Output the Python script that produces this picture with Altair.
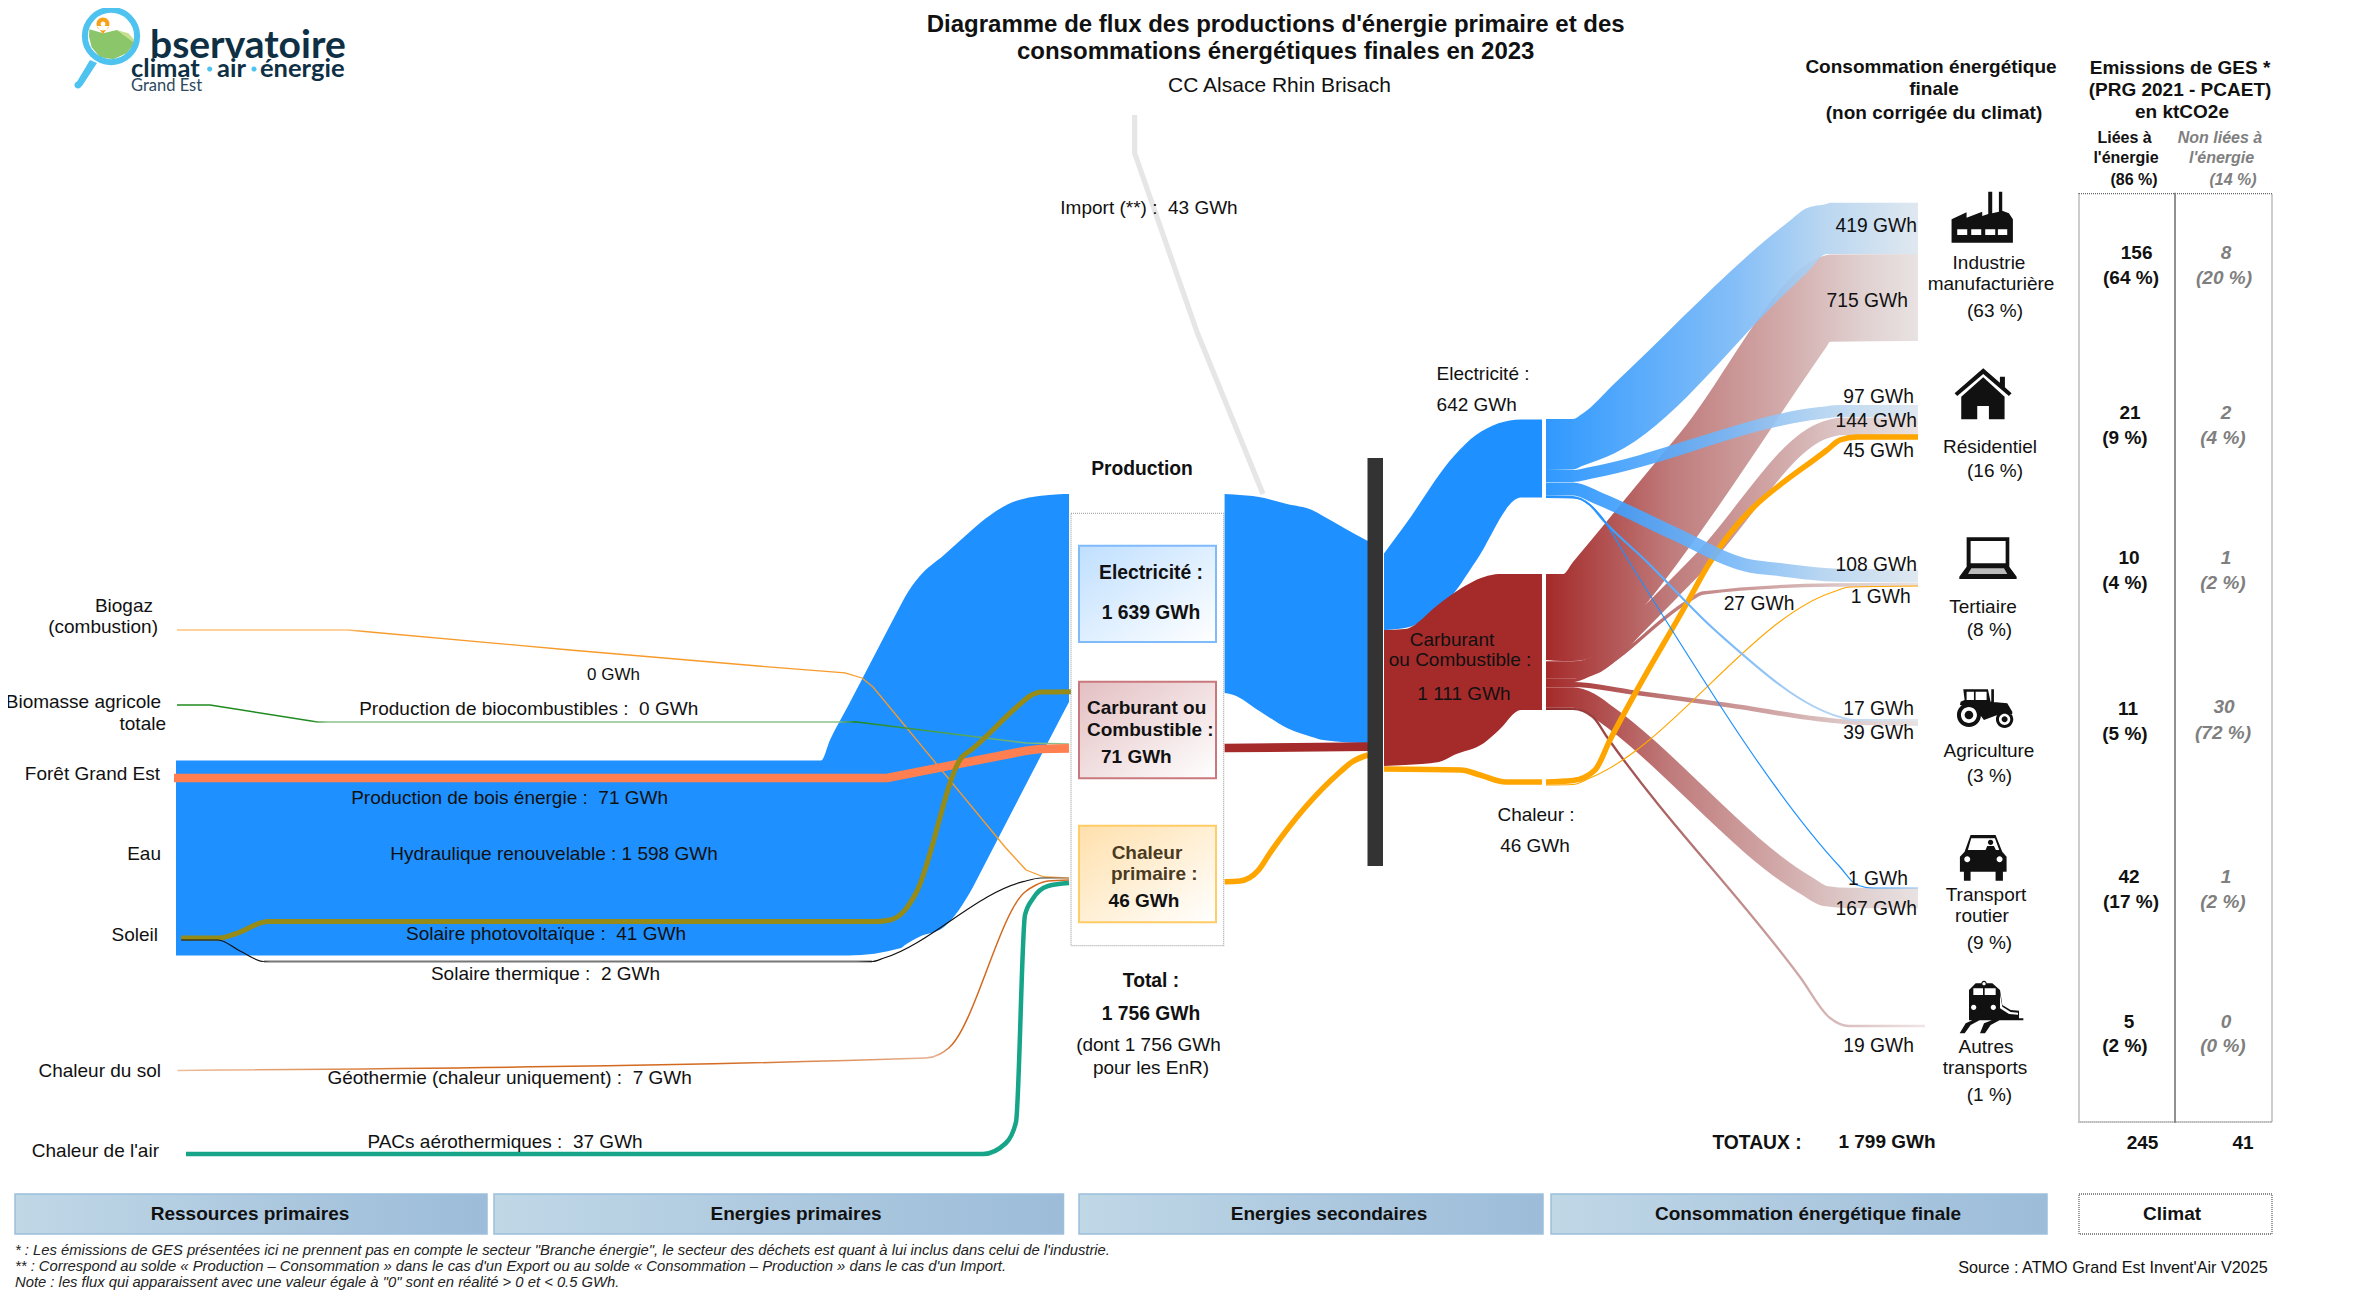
import math
import altair as alt
import pandas as pd

W, H = 2350, 1283
XS = alt.Scale(domain=[8, 8 + W], nice=False, zero=False)
YS = alt.Scale(domain=[8 + H, 8], nice=False, zero=False)
FONT = "Liberation Sans"

# ---------- flow values (GWh) ----------
PX_PER_GWH = 0.122
PROD = dict(hydro=1598, bois=71, pv=41, thermique=2, geo=7, pac=37, import_=43)
PRIMARY = dict(elec=1639, carb=71, chal=46)
SECOND = dict(elec=642, carb=1111, chal=46)
ELEC_OUT = dict(ind=419, res=97, ter=108, agr=17, tra=1)
CARB_OUT = dict(ind=715, res=144, ter=27, agr=39, tra=167, aut=19)
CHAL_OUT = dict(res=45, ter=1)

BLUE, RED, ORANGE = "#1E90FF", "#A52A2A", "#FFA500"


def grad(*stops, diag=False):
    return alt.Gradient(
        gradient="linear", x1=0, y1=0, x2=1, y2=1 if diag else 0,
        stops=[alt.GradientStop(color=c, offset=o) for o, c in stops],
    )


layers = []


def band(xs, tops, bots, fill, opacity=1.0, interp="monotone"):
    df = pd.DataFrame({"x": xs, "t": tops, "b": bots})
    layers.append(
        alt.Chart(df).mark_area(fill=fill, opacity=opacity, line=False, interpolate=interp).encode(
            x=alt.X("x:Q", scale=XS, axis=None),
            y=alt.Y("t:Q", scale=YS, axis=None),
            y2="b:Q",
        )
    )


def flow(path, width, stroke, opacity=1.0, interp="monotone"):
    df = pd.DataFrame(path, columns=["x", "y"])
    layers.append(
        alt.Chart(df).mark_line(
            stroke=stroke, strokeWidth=width, opacity=opacity, interpolate=interp,
            strokeCap="butt", strokeJoin="round",
        ).encode(
            x=alt.X("x:Q", scale=XS, axis=None),
            y=alt.Y("y:Q", scale=YS, axis=None),
        )
    )


def rect(x1, x2, y1, y2, **kw):
    df = pd.DataFrame({"x": [x1], "x2": [x2], "y": [y1], "y2": [y2]})
    layers.append(
        alt.Chart(df).mark_rect(**kw).encode(
            x=alt.X("x:Q", scale=XS, axis=None), x2="x2:Q",
            y=alt.Y("y:Q", scale=YS, axis=None), y2="y2:Q",
        )
    )


def px(v):
    return max(1.0, v * PX_PER_GWH)


# ---------- left side ----------
band([176, 819, 821, 830, 848, 901, 905, 919, 944, 973, 980, 1019, 1059, 1069],
     [760.6, 760.6, 760.6, 740, 706, 604.6, 597, 577, 555, 529, 523, 500, 494.3, 494],
     [955.5, 955.5, 955.5, 955.5, 955.5, 948, 945, 937, 927, 887, 873.5, 798, 721, 702], BLUE)

flow([(177, 630), (348, 630), (570, 650), (765, 666.6), (845, 672.8), (862, 678), (873, 687),
      (1005, 847), (1026, 870), (1044, 877), (1069, 878)], 1.3,
     grad((0, "#FFC47A"), (.19, "#FFC47A"), (.21, "#F79A2A"), (1, "#F79A2A")), interp="linear")
flow([(177, 705), (210, 705), (317.5, 722), (849, 722), (855, 721.7), (1026, 743), (1069, 744)], 1.6,
     grad((0, "#1F8A1F"), (.15, "#1F8A1F"), (.17, "#8DC28D"), (.74, "#8DC28D"), (.76, "#1F8A1F"), (1, "#8DC28D")),
     interp="linear")
flow([(174, 778), (887, 778), (1026, 750.7), (1040, 749), (1069, 748.3)], px(PROD["bois"]), "#FF7F50", interp="linear")
flow([(181, 938), (218, 938), (235, 934), (268, 921.5), (876, 921.5), (890, 920), (905, 910), (916, 893), (962, 757),
      (971, 750), (1019, 705), (1030, 696), (1041, 692), (1071, 691.7)], px(PROD["pv"]), "#968B17")
flow([(264, 961.5), (872, 961.5)], 2.2, "#777777", interp="linear")
flow([(181, 940), (218, 940), (240, 951), (264, 961.5), (872, 961.5), (884, 958), (1023, 881.7), (1041, 878), (1069, 878)], 1.2,
     grad((0, "#111111"), (.09, "#111111"), (.1, "#777777"), (.76, "#777777"), (.78, "#111111"), (.96, "#111111"), (1, "#999999")))
flow([(177.5, 1070.5), (926, 1058), (940, 1054), (949, 1047.7), (1025, 892), (1036, 885), (1048, 881), (1069, 880)], 1.5,
     grad((0, "#EDBE9C"), (.3, "#D2691E"), (.6, "#D2691E"), (.85, "#E8B090"), (.87, "#D2691E"), (1, "#D2691E")))
flow([(186, 1154), (983, 1154), (1006, 1143), (1016, 1122), (1025, 915), (1033, 898.5), (1048, 886), (1069, 883)],
     px(PROD["pac"]), "#17A589")

# Production -> bar
flow([(1134.6, 115), (1134.6, 153), (1197, 332), (1263, 494)], px(PROD["import_"]), "#E6E6E6", interp="linear")
band([1224.6, 1233.6, 1259, 1287, 1312, 1323, 1366, 1368],
     [494, 494.5, 497, 503.9, 510, 516, 540, 541],
     [693, 695, 710.7, 728, 737, 740, 743, 743], BLUE)
flow([(1224.6, 748), (1368, 746.7)], px(PRIMARY["carb"]), RED, interp="linear")
flow([(1224.6, 881.7), (1240, 881), (1258.6, 870), (1270, 853), (1340, 772), (1352, 762), (1368, 755)], px(PRIMARY["chal"]), ORANGE)

# Dotted boxes
rect(1071, 1223.6, 513.3, 945.7, fill="white", stroke="#AAAAAA", strokeWidth=1.3, strokeDash=[1, 1])
rect(1079, 1216, 545.7, 642, fill=grad((0, "#BFDFFF"), (1, "#FFFFFF"), diag=True), stroke="#7FBBFB", strokeWidth=2)
rect(1079, 1216, 681.7, 778.3, fill=grad((0, "#E3BFC2"), (1, "#FFFFFF"), diag=True), stroke="#C9797E", strokeWidth=2)
rect(1079, 1216, 825.7, 922.3, fill=grad((0, "#FFE0AC"), (1, "#FFFFFF"), diag=True), stroke="#FFCC66", strokeWidth=2)

# Bar
rect(1367.5, 1383, 458, 866, fill="#333333")

# Secondary nodes
band([1384, 1405, 1454, 1476, 1521, 1542],
     [553.5, 525, 456, 435, 419.5, 419.5], [630, 628, 593, 561, 497.5, 497.5], BLUE)
band([1384, 1405, 1439, 1454, 1484, 1499, 1521, 1542],
     [630, 629, 604, 593, 577, 574, 574, 574], [766, 765, 762, 755, 743, 730, 710, 710], RED)
flow([(1384, 769), (1461, 770), (1480, 775), (1506, 782), (1542, 782)], px(SECOND["chal"]), ORANGE)

# Fuel flows
R = grad((0, RED), (.34, "#C07C7C"), (.6, "#D0A4A4"), (.85, "#E0D0D0"), (1, "#E9E2E2"))
band([1546, 1563, 1573, 1593, 1655, 1680, 1827, 1830, 1918],
     [574, 574, 562, 538, 463, 433, 255, 254.5, 254],
     [660, 661, 661, 657, 593, 560, 346, 341.7, 341], R)
flow([(1546, 670), (1573, 670), (1595, 665), (1608, 656), (1635, 628), (1703, 559), (1825, 430), (1840, 426.5), (1918, 426)],
     px(CARB_OUT["res"]), R)
flow([(1546, 680.5), (1573, 680.5), (1593, 673), (1687, 602), (1703, 593), (1833, 585), (1918, 584.5)],
     px(CARB_OUT["ter"]), R)
flow([(1546, 684.5), (1573, 684.5), (1630, 692), (1727, 705), (1850, 722), (1918, 723.5)], px(CARB_OUT["agr"]), R)
flow([(1546, 697.5), (1573, 697.5), (1590, 703), (1603, 712), (1807, 886), (1825, 896), (1850, 898), (1918, 898)],
     px(CARB_OUT["tra"]), R)
flow([(1546, 708.8), (1573, 708.8), (1593, 717), (1607, 737), (1800, 977), (1830, 1018), (1849, 1026), (1925, 1026)],
     px(CARB_OUT["aut"]), grad((0, "#8E2A2A"), (1, "#EFE6E6")))

# Heat flows
flow([(1546, 782), (1573, 780.5), (1595, 770), (1610, 740), (1637, 690), (1687, 603), (1707, 567), (1827, 450), (1840, 440), (1857, 437), (1918, 437)],
     px(CHAL_OUT["res"]), ORANGE)
flow([(1546, 785), (1573, 784.5), (1590, 778), (1833, 592), (1850, 587), (1918, 586)], 1.1, ORANGE)

# Electricity flows
B = grad((0, BLUE), (.5, "#78B8F7"), (.75, "#B4D3F0"), (1, "#DDE6EE"))
band([1546, 1573, 1582, 1615, 1787, 1807, 1827, 1830, 1918],
     [419, 419, 414, 383, 223, 208, 203.7, 202.7, 202.7],
     [470, 469.5, 466, 453, 291.7, 272.7, 254, 254, 254], B, opacity=.92)
flow([(1546, 476), (1573, 476), (1590, 473), (1820, 413), (1840, 411), (1918, 411)], px(ELEC_OUT["res"]), B, opacity=.92)
flow([(1546, 489), (1573, 489), (1600, 499), (1673, 533), (1750, 566), (1775, 569), (1833, 575), (1918, 576)], px(ELEC_OUT["ter"]), B, opacity=.92)
flow([(1546, 496.5), (1573, 497), (1590, 505), (1603, 520), (1645, 560), (1717, 632), (1840, 717), (1853, 720), (1918, 720)],
     px(ELEC_OUT["agr"]), grad((0, BLUE), (1, "#E3E9F0")))
flow([(1546, 497.5), (1573, 498), (1590, 505), (1600, 515), (1628, 560), (1840, 867), (1857, 885), (1873, 888), (1918, 888)], 1.2,
     grad((0, BLUE), (.85, BLUE), (1, "#8CC4FA")))

# Right columns
rect(2079, 2272, 193.6, 1122, fill="white", fillOpacity=0, stroke="#666666", strokeWidth=1.3, strokeDash=[1, 1])
rect(2175, 2175.01, 193.6, 1122, stroke="#777777", strokeWidth=1.6)

# Bottom bars
BAR_GRAD = grad((0, "#C0D7E6"), (1, "#9CBCD9"))
for a, b in [(15, 487), (494, 1063.5), (1079, 1543), (1551, 2047)]:
    rect(a, b, 1194, 1234, fill=BAR_GRAD, stroke="#9CBFDB", strokeWidth=1.5)
rect(2079, 2272, 1194, 1234, fill="white", stroke="#666666", strokeWidth=1.3, strokeDash=[1, 1])


# ---------- icons ----------
def _poly(pts, cx, cy, h):
    return "M" + "L".join(f"{(x - cx) / h:.4f},{(y - cy) / h:.4f}" for x, y in pts) + "Z"


def _circle(x0, y0, r, cx, cy, h):
    k = 0.5523 * r
    f = lambda x, y: f"{(x - cx) / h:.4f},{(y - cy) / h:.4f}"
    return ("M" + f(x0 + r, y0)
            + "C" + f(x0 + r, y0 + k) + " " + f(x0 + k, y0 + r) + " " + f(x0, y0 + r)
            + "C" + f(x0 - k, y0 + r) + " " + f(x0 - r, y0 + k) + " " + f(x0 - r, y0)
            + "C" + f(x0 - r, y0 - k) + " " + f(x0 - k, y0 - r) + " " + f(x0, y0 - r)
            + "C" + f(x0 + k, y0 - r) + " " + f(x0 + r, y0 - k) + " " + f(x0 + r, y0) + "Z")


def icon(parts, center, side, ox, oy, sx=2.96, sy=3.0):
    """parts: list of (colour, polys, circles) in zoom units"""
    cx, cy = center
    h = side / 2
    for colour, polys, circles in parts:
        d = "".join(_poly(p, cx, cy, h) for p in polys) + "".join(_circle(x, y, r, cx, cy, h) for x, y, r in circles)
        df = pd.DataFrame({"x": [ox + cx / sx], "y": [oy + cy / sy]})
        layers.append(
            alt.Chart(df).mark_point(shape=d, filled=True, fill=colour, size=(side / sy) ** 2, opacity=1, strokeWidth=0).encode(
                x=alt.X("x:Q", scale=XS, axis=None), y=alt.Y("y:Q", scale=YS, axis=None))
        )


def box(a, b, c, d):
    return [(a, b), (c, b), (c, d), (a, d)]


BK = "#111111"
# factory
icon([(BK, [[(33, 188), (33, 118), (78, 97), (78, 113), (125, 95), (125, 108), (143, 102), (143, 35), (155, 35), (155, 100),
             (175, 95), (175, 35), (185, 35), (185, 92), (205, 100), (217, 118), (217, 188)]], []),
      ("white", [box(50, 148, 80, 165), box(92, 148, 122, 165), box(134, 148, 164, 165), box(172, 148, 200, 165)], [])],
     (125, 110), 200, 1940, 180)
# house
icon([(BK, [[(42, 640), (128, 565), (178, 608), (178, 590), (193, 590), (193, 622), (213, 640), (205, 648), (128, 582), (50, 648)],
            [(62, 650), (128, 592), (192, 650), (192, 718), (145, 718), (145, 678), (110, 678), (110, 718), (62, 718)]], [])],
     (128, 640), 200, 1940, 180)
# laptop
icon([(BK, [box(78, 1072, 206, 1160), [(78, 1160), (206, 1160), (228, 1190), (228, 1197), (56, 1197), (56, 1190)]], []),
      ("white", [box(90, 1083, 195, 1150)], []),
      ("#BBBBBB", [[(92, 1165), (190, 1165), (200, 1182), (82, 1182)]], [])],
     (142, 1135), 200, 1940, 180)
# tractor
icon([(BK, [[(68, 148), (142, 148), (150, 185), (200, 190), (215, 215), (215, 222), (170, 225), (130, 240), (100, 200), (58, 195), (60, 185), (72, 180)],
            box(152, 148, 160, 190)], [(85, 225, 36), (192, 238, 26)]),
      ("white", [box(78, 155, 100, 180), box(105, 155, 138, 180)], [(85, 225, 24), (192, 238, 17)]),
      (BK, [], [(85, 225, 13), (192, 238, 9)])],
     (135, 190), 200, 1940, 640)
# car
icon([(BK, [[(90, 585), (165, 585), (185, 635), (198, 650), (198, 695), (187, 695), (187, 722), (165, 722), (165, 695), (90, 695),
             (90, 722), (70, 722), (70, 695), (58, 695), (58, 650), (72, 635)]], []),
      ("white", [[(92, 595), (163, 595), (176, 630), (82, 630)]], [(80, 658, 9), (177, 658, 9)]),
      (BK, [[(135, 630), (140, 618), (160, 618), (166, 630)]], [(150, 607, 8)])],
     (128, 650), 200, 1940, 640)
# train
icon([(BK, [[(85, 1135), (85, 1050), (105, 1030), (155, 1030), (178, 1050), (185, 1095), (210, 1110), (235, 1112), (235, 1135)],
            [(57, 1180), (75, 1150), (105, 1136), (125, 1136), (90, 1155), (72, 1180)],
            [(118, 1180), (130, 1150), (165, 1136), (185, 1136), (150, 1155), (133, 1180)],
            [(85, 1132), (248, 1135), (248, 1141), (85, 1141)]], [(130, 1030, 8)]),
      ("white", [box(98, 1045, 127, 1065), box(132, 1045, 165, 1065),
                 [(178, 1062), (185, 1100), (210, 1116), (232, 1118), (232, 1124), (205, 1122), (178, 1105)]],
       [(99, 1102, 8), (158, 1102, 8), (130, 1031, 5)])],
     (150, 1100), 200, 1940, 640)

# ---------- logo ----------
LOGO = "#4FC3F0"
icon([(LOGO, [[(90, 60), (97, 63), (82, 86), (75, 85)]], [(78, 85, 3.6)])],
     (85, 70), 40, 0, 0, sx=1, sy=1)
icon([("#8CC66A", [[(88, 88), (130, 100), (170, 90), (205, 105), (225, 125), (225, 130), (200, 160), (160, 178), (120, 172), (95, 142), (87, 110)]], []),
      ("#C6DF8E", [[(170, 90), (205, 100), (228, 125), (218, 125), (190, 105)]], [])],
     (155, 130), 180, 60, 0, sx=3, sy=3)
layers.append(alt.Chart(pd.DataFrame({"x": [111], "y": [36]})).mark_point(
    shape="circle", filled=False, stroke=LOGO, strokeWidth=6, size=math.pi * 29.5 ** 2, opacity=1).encode(
    x=alt.X("x:Q", scale=XS, axis=None), y=alt.Y("y:Q", scale=YS, axis=None)))
icon([("#F7A11A", [[(97, 26), (103, 34), (109, 26)]], [(103, 24, 6.5)]),
      ("white", [], [(103, 24, 2.4)])], (103, 28), 20, 0, 0, sx=1, sy=1)

# ---------- text ----------
N = "#111111"
G = "#7F7F7F"
NB = "\u00a0\u00a0"
# (text, x, y, size)
MID = [
    ("CC Alsace Rhin Brisach", 1279.5, 86, 21),
    (f"Import (**) :{NB}43 GWh", 1149, 207.5, 19),
    ("0 GWh", 613.5, 675, 17),
    (f"Production de biocombustibles :{NB}0 GWh", 528.7, 709, 19),
    (f"Production de bois énergie :{NB}71 GWh", 509.6, 797.5, 19),
    ("Hydraulique renouvelable : 1 598 GWh", 554, 854, 19),
    (f"Solaire photovoltaïque :{NB}41 GWh", 546, 934, 19),
    (f"Solaire thermique :{NB}2 GWh", 545.5, 973.5, 19),
    (f"Géothermie (chaleur uniquement) :{NB}7 GWh", 509.6, 1078, 19),
    (f"PACs aérothermiques :{NB}37 GWh", 505, 1142, 19),
    ("(dont 1 756 GWh", 1148.5, 1045, 19),
    ("pour les EnR)", 1151, 1067.6, 19),
    ("Carburant", 1452, 640, 19),
    ("ou Combustible :", 1460, 660, 19),
    ("1 111 GWh", 1464, 693.5, 19),
    ("Chaleur :", 1536, 814.5, 19),
    ("46 GWh", 1535, 845.5, 19),
    ("27 GWh", 1759, 604, 19.3),
    ("Industrie", 1989, 263, 19),
    ("manufacturière", 1991, 284, 19),
    ("(63 %)", 1995, 311, 19),
    ("Résidentiel", 1990, 447, 19),
    ("(16 %)", 1995, 471, 19),
    ("Tertiaire", 1983, 606.5, 19),
    ("(8 %)", 1989.5, 630, 19),
    ("Agriculture", 1989, 750.7, 19),
    ("(3 %)", 1989.5, 775.5, 19),
    ("Transport", 1986, 895, 19),
    ("routier", 1982, 916, 19),
    ("(9 %)", 1989.5, 943, 19),
    ("Autres", 1986, 1047, 19),
    ("transports", 1985, 1068, 19),
    ("(1 %)", 1989.5, 1095, 19),
    ("Source : ATMO Grand Est Invent'Air V2025", 2113, 1267.6, 16.2),
]
LEFT = [
    ("Electricité :", 1436.6, 374.4, 19),
    ("642 GWh", 1436.6, 405, 19),
]
RIGHT = [
    ("Biogaz", 153, 606, 19), ("(combustion)", 158, 627, 19),
    ("Biomasse agricole", 161, 702, 19), ("totale", 166, 723.7, 19),
    ("Forêt Grand Est", 160, 774, 19), ("Eau", 161, 854, 19), ("Soleil", 158, 934.6, 19),
    ("Chaleur du sol", 161, 1071, 19), ("Chaleur de l'air", 159, 1151, 19),
    ("419 GWh", 1917, 226, 19.3), ("715 GWh", 1908, 301, 19.3), ("97 GWh", 1914, 396.7, 19.3),
    ("144 GWh", 1917, 421, 19.3), ("45 GWh", 1914, 450.7, 19.3), ("108 GWh", 1917, 565, 19.3),
    ("1 GWh", 1910.7, 596.7, 19.3), ("17 GWh", 1914, 709, 19.3), ("39 GWh", 1914, 733, 19.3),
    ("1 GWh", 1908, 879, 19.3), ("167 GWh", 1917, 909, 19.3), ("19 GWh", 1914, 1045.6, 19.3),
]
BOLD_MID = [
    ("Diagramme de flux des productions d'énergie primaire et des", 1275.7, 25, 24),
    ("consommations énergétiques finales en 2023", 1275.7, 52, 24),
    ("Production", 1142, 469, 19.3),
    ("Electricité :", 1151, 573, 19.3),
    ("1 639 GWh", 1151, 613, 19.3),
    ("Total :", 1151, 981.4, 19.3),
    ("1 756 GWh", 1151, 1013.7, 19.3),
    ("Consommation énergétique", 1931, 67, 19),
    ("finale", 1934, 89, 19),
    ("(non corrigée du climat)", 1934, 113, 19),
    ("Emissions de GES *", 2180, 68, 19),
    ("(PRG 2021 - PCAET)", 2180, 90, 19),
    ("en ktCO2e", 2182, 112, 19),
    ("Liées à", 2124.6, 138, 16),
    ("l'énergie", 2126, 157.5, 16),
    ("(86 %)", 2134, 180, 16),
    ("156", 2136.6, 253, 19), ("(64 %)", 2131, 278, 19),
    ("21", 2130, 413, 19), ("(9 %)", 2125, 438, 19),
    ("10", 2129, 557.6, 19), ("(4 %)", 2125, 582.5, 19),
    ("11", 2128, 709, 19), ("(5 %)", 2125, 734, 19),
    ("42", 2129, 877, 19), ("(17 %)", 2131, 902, 19),
    ("5", 2129, 1021.6, 19), ("(2 %)", 2125, 1046.4, 19),
    ("TOTAUX :", 1757, 1142.5, 19.3),
    ("1 799 GWh", 1887, 1141.7, 19),
    ("245", 2142.5, 1143, 19),
    ("41", 2243, 1143, 19),
    ("Ressources primaires", 250, 1214, 19),
    ("Energies primaires", 796, 1214, 19),
    ("Energies secondaires", 1329, 1214, 19),
    ("Consommation énergétique finale", 1808, 1214, 19),
    ("Climat", 2172, 1214, 19),
]
BOLD_LEFT = [
    ("Carburant ou", 1087, 708, 19), ("Combustible :", 1087, 730, 19), ("71 GWh", 1101, 757, 19),
    ("46 GWh", 1108.6, 901, 19),
]
BROWN_BOLD = [("Chaleur", 1147, 853, 19, "center"), ("primaire :", 1111, 874, 19, "left")]
ITALIC_BOLD_G = [
    ("Non liées à", 2220, 138, 16), ("l'énergie", 2221.6, 157.5, 16), ("(14 %)", 2233, 180, 16),
    ("8", 2226, 253, 19), ("(20 %)", 2224, 278, 19),
    ("2", 2226, 413, 19), ("(4 %)", 2223, 438, 19),
    ("1", 2226, 557.6, 19), ("(2 %)", 2223, 582.5, 19),
    ("30", 2224, 707, 19), ("(72 %)", 2223, 733, 19),
    ("1", 2226, 877, 19), ("(2 %)", 2223, 902, 19),
    ("0", 2226, 1021.6, 19), ("(0 %)", 2223, 1046.4, 19),
]
NOTES = [
    ('* : Les émissions de GES présentées ici ne prennent pas en compte le secteur "Branche énergie", le secteur des déchets est quant à lui inclus dans celui de l\'industrie.', 15, 1250.5, 14.8),
    ("** : Correspond au solde « Production – Consommation » dans le cas d'un Export ou au solde « Consommation – Production » dans le cas d'un Import.", 15, 1266.5, 14.8),
    ('Note : les flux qui apparaissent avec une valeur égale à "0" sont en réalité > 0 et < 0.5 GWh.', 15, 1282.5, 14.8),
]
LOGO_TEXT = [
    ("bservatoire", 150, 46, 39, "bold", "#0E2F44", "Lato"),
    ("climat", 131, 69, 25.5, "bold", "#0E2F44", "Lato"),
    ("air", 217, 69, 25.5, "bold", "#0E2F44", "Lato"),
    ("énergie", 260, 69, 25.5, "bold", "#0E2F44", "Lato"),
    ("Grand Est", 131, 86, 16.5, "normal", "#2D4A5E", "Lato"),
]


def text_layer(rows, align="center", weight="normal", style="normal", color=N, font=FONT):
    df = pd.DataFrame([r[:4] for r in rows], columns=["t", "x", "y", "s"])
    layers.append(
        alt.Chart(df).mark_text(align=align, baseline="middle", fontWeight=weight, fontStyle=style, fill=color, font=font).encode(
            x=alt.X("x:Q", scale=XS, axis=None), y=alt.Y("y:Q", scale=YS, axis=None),
            text="t:N", size=alt.Size("s:Q", scale=None, legend=None),
        )
    )


text_layer(MID)
text_layer(LEFT, align="left")
text_layer(RIGHT, align="right")
text_layer(BOLD_MID, weight="bold")
text_layer(BOLD_LEFT, align="left", weight="bold")
text_layer([r for r in BROWN_BOLD if r[4] == "center"], weight="bold", color="#4A3A20")
text_layer([r for r in BROWN_BOLD if r[4] == "left"], align="left", weight="bold", color="#4A3A20")
text_layer(ITALIC_BOLD_G, weight="bold", style="italic", color=G)
text_layer(NOTES, align="left", style="italic", color="#222222")
for t, x, y, s, w, c, f in LOGO_TEXT:
    text_layer([(t, x, y, s)], align="left", weight=w, color=c, font=f)
icon([(LOGO, [], [(209.7, 69, 2.6), (254, 69, 2.6)])], (230, 69), 60, 0, 0, sx=1, sy=1)

chart = alt.layer(*layers).properties(
    width=W, height=H, padding=0, autosize=alt.AutoSizeParams(type="none"),
    background="white",
).configure_view(stroke=None).configure_text(limit=0)

chart.save("out.html", embed_options={"renderer": "svg", "actions": False})
